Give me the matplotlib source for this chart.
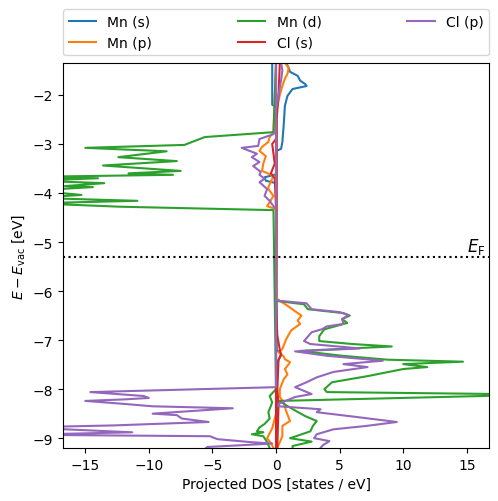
#
# Spin-resolved projected DOS of MnCl2, majority to the right, minority to the left.
#

import matplotlib.pyplot as plt

# energies [eV] and DOS [states / eV] for each projection, spin up / spin down
mn_s_up_E = [-1.35, -1.45, -1.53, -1.61, -1.71, -1.78, -1.82, -1.88, -2.02,
             -2.22, -2.63, -2.96, -3.10, -3.14, -7.20, -7.28, -7.35, -7.45, -9.20]
mn_s_up = [0.8, 1.0, 1.1, 1.7, 1.9, 2.3, 2.4, 1.3, 0.9,
           0.7, 0.6, 0.5, 0.4, 0.05, 0.05, 0.4, 0.3, 0.1, 0.05]
mn_s_dn_E = [-1.35, -2.20, -2.25, -3.62, -3.68, -3.75, -3.80, -9.20]
mn_s_dn = [-0.3, -0.3, 0.0, 0.0, -0.9, -0.8, 0.0, 0.0]

mn_p_up_E = [-1.35, -1.45, -1.57, -1.67, -1.82, -2.00, -2.30, -6.15, -6.20,
             -6.30, -6.43, -6.50, -6.60, -6.67, -6.80, -6.98, -7.18, -7.25,
             -7.33, -7.39, -7.45, -7.49, -7.59, -7.70, -7.80, -8.00, -8.16,
             -8.27, -8.45, -8.65, -8.75, -8.96, -9.20]
mn_p_up = [0.7, 1.0, 0.9, 0.7, 0.5, 0.3, 0.05, 0.05, 0.3,
           0.9, 1.6, 2.0, 1.7, 1.9, 1.2, 0.8, 0.5, 0.2,
           0.6, 0.7, 1.1, 1.0, 0.7, 0.9, 0.6, 0.3, 0.3,
           0.6, 0.8, 1.1, 0.5, 0.5, 0.1]
mn_p_dn_E = [-1.35, -2.76, -2.86, -2.96, -3.06, -3.14, -3.25, -3.40, -3.55,
             -3.65, -3.71, -3.88, -3.92, -4.06, -4.27, -4.33, -8.50, -8.80,
             -9.00, -9.10, -9.20]
mn_p_dn = [0.0, -0.2, -0.5, -0.6, -1.1, -1.3, -0.8, -1.0, -1.1,
           -0.2, -0.3, -0.6, -0.6, -0.2, -0.7, 0.0, 0.0, -0.3,
           -0.7, -0.4, -0.2]

mn_d_up_E = [-1.35, -6.20, -6.27, -6.37, -6.45, -6.50, -6.57, -6.65, -6.78,
             -6.92, -7.02, -7.08, -7.13, -7.22, -7.32, -7.40, -7.44, -7.49,
             -7.55, -7.59, -7.73, -7.86, -8.00, -8.06, -8.11, -8.24, -8.33,
             -8.45, -8.55, -8.65, -8.75, -8.86, -8.94, -9.00, -9.07, -9.16, -9.20]
mn_d_up = [0.0, 0.0, 2.2, 2.5, 5.3, 5.8, 5.2, 5.6, 3.8,
           3.4, 3.4, 6.0, 9.1, 1.9, 5.2, 8.8, 14.7, 10.0,
           11.9, 10.0, 7.3, 4.4, 3.8, 4.0, 21.0, 0.3, 0.8,
           1.6, 2.3, 3.2, 2.9, 2.7, 1.8, 1.1, 2.8, 1.3, 1.3]
mn_d_dn_E = [-1.35, -2.76, -2.86, -2.97, -3.02, -3.08, -3.15, -3.27, -3.35,
             -3.44, -3.55, -3.60, -3.63, -3.67, -3.70, -3.75, -3.80, -3.86,
             -3.88, -3.95, -4.04, -4.10, -4.16, -4.21, -4.28, -4.35, -8.00,
             -8.14, -8.27, -8.47, -8.60, -8.71, -8.78, -8.86, -8.88, -8.92,
             -8.96, -9.08, -9.20]
mn_d_dn = [0.0, -0.2, -5.6, -6.7, -7.2, -15.0, -8.6, -12.4, -7.8,
           -13.6, -7.5, -11.6, -8.1, -19.0, -14.0, -19.0, -13.5, -16.6,
           -14.4, -19.0, -15.3, -19.0, -10.9, -19.0, -12.3, -0.2, 0.0,
           -0.5, -0.3, -0.6, -0.5, -0.9, -1.3, -1.5, -1.0, -1.9,
           -1.0, -0.7, -0.5]

cl_s_up_E = [-1.35, -2.00, -2.50, -6.20, -6.90, -7.20, -7.30, -7.40, -8.00, -8.30, -9.20]
cl_s_up = [0.3, 0.2, 0.05, 0.0, 0.1, 0.3, 0.4, 0.2, 0.1, 0.2, 0.1]
cl_s_dn_E = [-1.35, -2.90, -3.00, -3.40, -3.60, -3.70, -4.30, -9.20]
cl_s_dn = [0.0, 0.0, -0.3, -0.1, -0.4, -0.1, 0.0, 0.0]

cl_p_up_E = [-1.35, -1.50, -1.70, -2.00, -2.30, -6.18, -6.20, -6.25, -6.37,
             -6.43, -6.49, -6.57, -6.67, -6.72, -6.78, -6.84, -7.02, -7.08,
             -7.17, -7.23, -7.32, -7.42, -7.49, -7.55, -7.65, -7.76, -7.86,
             -7.96, -8.10, -8.16, -8.30, -8.35, -8.41, -8.47, -8.57, -8.67,
             -8.75, -8.82, -8.92, -9.00, -9.06, -9.14, -9.20]
cl_p_up = [0.4, 0.5, 0.4, 0.2, 0.0, 0.0, 0.3, 2.4, 2.8,
           5.0, 5.7, 5.2, 5.3, 4.0, 3.6, 2.8, 2.2, 2.7,
           6.6, 1.5, 4.0, 8.4, 5.3, 7.2, 4.5, 3.2, 2.4,
           1.5, 2.8, 1.5, 0.2, 0.2, 3.5, 3.2, 6.4, 9.5,
           7.1, 4.5, 3.2, 3.0, 4.2, 3.7, 3.5]
cl_p_dn_E = [-1.35, -2.70, -2.80, -2.90, -3.04, -3.08, -3.20, -3.27, -3.37,
             -3.45, -3.57, -3.63, -3.71, -3.78, -3.92, -4.06, -4.16, -4.27,
             -4.32, -7.96, -8.06, -8.10, -8.14, -8.18, -8.21, -8.24, -8.30,
             -8.35, -8.39, -8.50, -8.53, -8.60, -8.67, -8.74, -8.78, -8.88,
             -8.93, -8.96, -9.02, -9.08, -9.11, -9.18, -9.20]
cl_p_dn = [0.0, 0.0, -0.2, -1.3, -1.4, -2.7, -1.5, -1.9, -1.3,
           -1.8, -1.2, -1.3, -0.9, -1.3, -0.7, -0.9, -0.5, -0.2,
           0.0, 0.0, -14.6, -12.5, -10.4, -10.0, -12.0, -15.0, -12.0,
           -9.7, -3.4, -9.7, -7.8, -7.4, -5.3, -12.8, -20.0, -11.3,
           -20.0, -5.2, -4.6, -2.0, -0.3, -5.4, -5.5]

labels = ['Mn (s)', 'Mn (p)', 'Mn (d)', 'Cl (s)', 'Cl (p)']
e_fermi = -5.31


def main():
    fig = plt.figure(figsize=(4.98, 5.02), dpi=100)
    ax = fig.add_axes([0.1265, 0.1056, 0.8555, 0.7669])

    series = [
        (mn_s_up_E, mn_s_up, mn_s_dn_E, mn_s_dn),
        (mn_p_up_E, mn_p_up, mn_p_dn_E, mn_p_dn),
        (mn_d_up_E, mn_d_up, mn_d_dn_E, mn_d_dn),
        (cl_s_up_E, cl_s_up, cl_s_dn_E, cl_s_dn),
        (cl_p_up_E, cl_p_up, cl_p_dn_E, cl_p_dn),
    ]
    for i, (label, (eu, du, ed, dd)) in enumerate(zip(labels, series)):
        color = 'C%d' % i
        ax.plot(du, eu, color=color, label=label, linewidth=1.5)
        ax.plot(dd, ed, color=color, linewidth=1.5)

    ax.axhline(e_fermi, color='k', linestyle=':', linewidth=1.5)
    ax.text(16.5, e_fermi + 0.03, r'$E_\mathrm{F}$', ha='right', va='bottom',
            fontsize=12)

    ax.set_xlim(-16.75, 16.75)
    ax.set_ylim(-9.2, -1.35)
    ax.set_xlabel('Projected DOS [states / eV]')
    ax.set_ylabel(r'$E - E_\mathrm{vac}$ [eV]')

    ax.legend(bbox_to_anchor=(0, 1.02, 1, 0.2), loc='lower left',
              mode='expand', ncol=3, borderaxespad=0)

    fig.savefig('out.png', dpi=100)


if __name__ == '__main__':
    main()
